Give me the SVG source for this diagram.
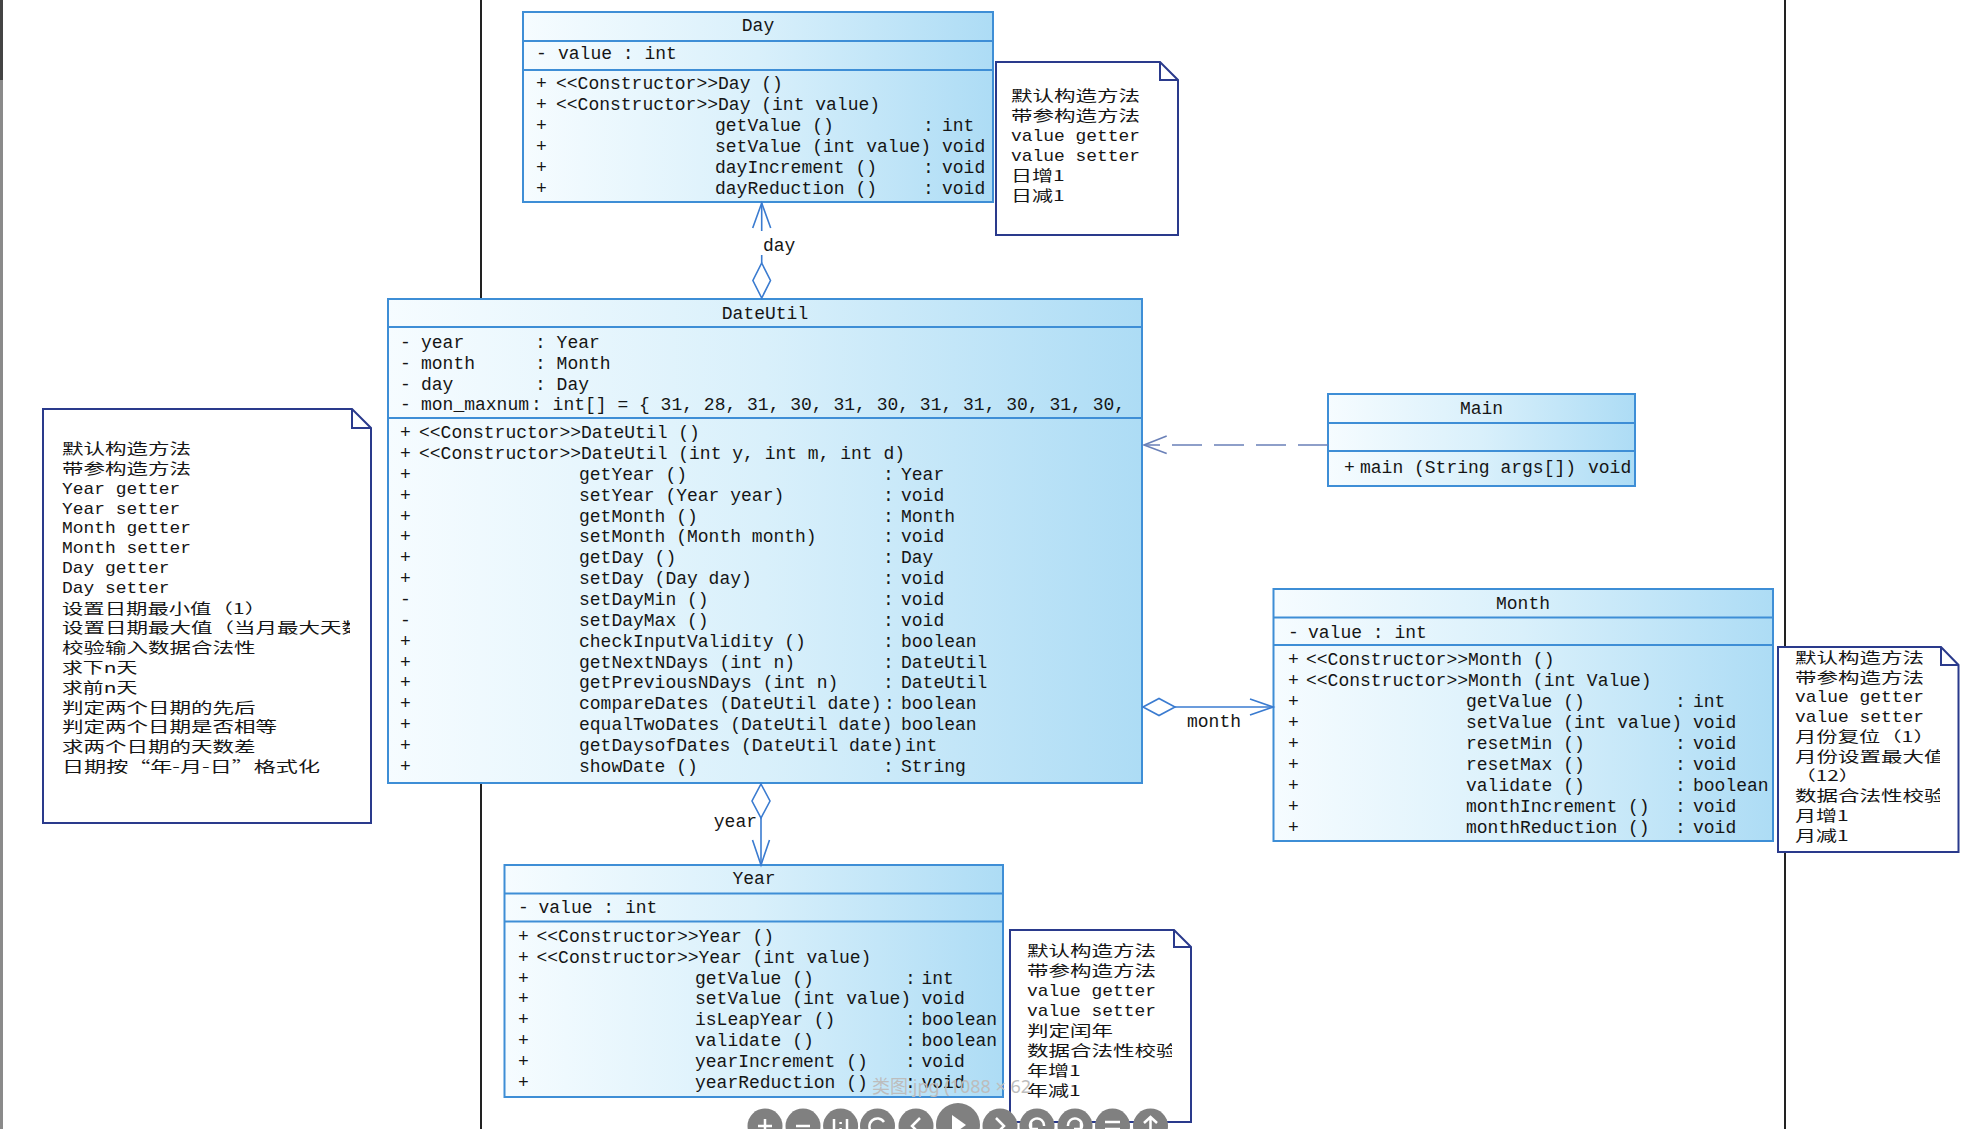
<svg xmlns="http://www.w3.org/2000/svg" width="1976" height="1129" viewBox="0 0 1976 1129">
<defs>
<linearGradient id="g" x1="0" y1="0" x2="1" y2="0">
<stop offset="0" stop-color="#f6fcff"/>
<stop offset="0.5" stop-color="#d9f0fb"/>
<stop offset="1" stop-color="#addcf5"/>
</linearGradient>
<clipPath id="clipDate"><rect x="43" y="409" width="307" height="414"/></clipPath>
<clipPath id="clipMonth"><rect x="1778" y="640" width="162" height="212"/></clipPath>
<clipPath id="clipYear"><rect x="1010" y="930" width="162" height="192"/></clipPath>
<style>
.m { font-family: "Liberation Mono", "DejaVu Sans Mono", monospace; font-size: 18px; fill: #151515; }
.c { font-family: "Noto Sans CJK SC", "Noto Sans", sans-serif; font-size: 14.5px; fill: #151515; }
.nt { font-family: "Liberation Mono", "Noto Sans CJK SC", monospace; font-size: 17px; fill: #151515; }
.box { fill: url(#g); stroke: #3e8ed6; stroke-width: 2; }
.sep { stroke: #3e8ed6; stroke-width: 2; }
.note { fill: #ffffff; stroke: #2a3a8c; stroke-width: 2; }
.fold { fill: none; stroke: #2a3a8c; stroke-width: 2; }
.agg { stroke: #3a7bd0; stroke-width: 1.6; fill: none; }
.dia { stroke: #3a7bd0; stroke-width: 1.6; fill: #ffffff; }
.dep { stroke: #6a80b8; stroke-width: 1.6; fill: none; stroke-dasharray: 30 12; }
.deph { stroke: #6a80b8; stroke-width: 1.6; fill: none; }
.vline { stroke: #222222; stroke-width: 2; }
.btn { fill: #808080; }
.ico { stroke: #ffffff; stroke-width: 2.5; fill: none; }
.wm { font-family: "Noto Sans", "Noto Sans CJK SC", sans-serif; font-size: 18px; fill: #bdbdbd; }
</style>
</defs>
<rect x="0" y="0" width="1976" height="1129" fill="#ffffff"/>
<rect x="0" y="0" width="3" height="1129" fill="#8a8a8a"/>
<rect x="0" y="0" width="3" height="80" fill="#444444"/>
<line x1="481" y1="0" x2="481" y2="1129" class="vline"/>
<line x1="1785" y1="0" x2="1785" y2="1129" class="vline"/>

<g id="Day">
<rect x="523" y="12" width="470" height="190" class="box"/>
<line x1="523" y1="41" x2="993" y2="41" class="sep"/>
<line x1="523" y1="70" x2="993" y2="70" class="sep"/>
<text x="758" y="31" class="m" text-anchor="middle">Day</text>
<text x="536" y="59" class="m">-</text><text x="558" y="59" class="m">value : int</text>
<text y="89" class="m"><tspan x="536">+</tspan><tspan x="556">&lt;&lt;Constructor&gt;&gt;Day ()</tspan></text>
<text y="110" class="m"><tspan x="536">+</tspan><tspan x="556">&lt;&lt;Constructor&gt;&gt;Day (int value)</tspan></text>
<text y="131" class="m"><tspan x="536">+</tspan><tspan x="715">getValue ()</tspan><tspan x="923">:</tspan><tspan x="942">int</tspan></text>
<text y="152" class="m"><tspan x="536">+</tspan><tspan x="715">setValue (int value)</tspan><tspan x="942">void</tspan></text>
<text y="173" class="m"><tspan x="536">+</tspan><tspan x="715">dayIncrement ()</tspan><tspan x="923">:</tspan><tspan x="942">void</tspan></text>
<text y="193.5" class="m"><tspan x="536">+</tspan><tspan x="715">dayReduction ()</tspan><tspan x="923">:</tspan><tspan x="942">void</tspan></text>
</g>

<g id="DayNote">
<path d="M996,62 L1160,62 L1178,80 L1178,235 L996,235 Z" class="note"/>
<path d="M1160,62 L1160,80 L1178,80" class="fold"/>
<text class="nt">
<tspan x="1011" y="100.5" class="c" textLength="129" lengthAdjust="spacingAndGlyphs">默认构造方法</tspan>
<tspan x="1011" y="120.5" class="c" textLength="129" lengthAdjust="spacingAndGlyphs">带参构造方法</tspan>
<tspan x="1011" y="140.5" textLength="129" lengthAdjust="spacingAndGlyphs">value getter</tspan>
<tspan x="1011" y="160.5" textLength="129" lengthAdjust="spacingAndGlyphs">value setter</tspan>
<tspan x="1011" y="180.5" class="c" textLength="53.75" lengthAdjust="spacingAndGlyphs">日增1</tspan>
<tspan x="1011" y="200.5" class="c" textLength="53.75" lengthAdjust="spacingAndGlyphs">日减1</tspan>
</text>
</g>

<g id="DateUtil">
<rect x="388" y="299" width="754" height="484" class="box"/>
<line x1="388" y1="327" x2="1142" y2="327" class="sep"/>
<line x1="388" y1="418" x2="1142" y2="418" class="sep"/>
<text x="765" y="319" class="m" text-anchor="middle">DateUtil</text>
<text y="348" class="m"><tspan x="400">-</tspan><tspan x="421">year</tspan><tspan x="535">: Year</tspan></text>
<text y="368.5" class="m"><tspan x="400">-</tspan><tspan x="421">month</tspan><tspan x="535">: Month</tspan></text>
<text y="389.5" class="m"><tspan x="400">-</tspan><tspan x="421">day</tspan><tspan x="535">: Day</tspan></text>
<text y="410" class="m"><tspan x="400">-</tspan><tspan x="421">mon_maxnum</tspan><tspan x="531">: int[] = { 31, 28, 31, 30, 31, 30, 31, 31, 30, 31, 30,</tspan></text>
<text y="438" class="m"><tspan x="400">+</tspan><tspan x="419">&lt;&lt;Constructor&gt;&gt;DateUtil ()</tspan></text>
<text y="459" class="m"><tspan x="400">+</tspan><tspan x="419">&lt;&lt;Constructor&gt;&gt;DateUtil (int y, int m, int d)</tspan></text>
<text y="480" class="m"><tspan x="400">+</tspan><tspan x="579">getYear ()</tspan><tspan x="883">:</tspan><tspan x="901">Year</tspan></text>
<text y="500.5" class="m"><tspan x="400">+</tspan><tspan x="579">setYear (Year year)</tspan><tspan x="883">:</tspan><tspan x="901">void</tspan></text>
<text y="521.5" class="m"><tspan x="400">+</tspan><tspan x="579">getMonth ()</tspan><tspan x="883">:</tspan><tspan x="901">Month</tspan></text>
<text y="542" class="m"><tspan x="400">+</tspan><tspan x="579">setMonth (Month month)</tspan><tspan x="883">:</tspan><tspan x="901">void</tspan></text>
<text y="563" class="m"><tspan x="400">+</tspan><tspan x="579">getDay ()</tspan><tspan x="883">:</tspan><tspan x="901">Day</tspan></text>
<text y="584" class="m"><tspan x="400">+</tspan><tspan x="579">setDay (Day day)</tspan><tspan x="883">:</tspan><tspan x="901">void</tspan></text>
<text y="605" class="m"><tspan x="400">-</tspan><tspan x="579">setDayMin ()</tspan><tspan x="883">:</tspan><tspan x="901">void</tspan></text>
<text y="625.5" class="m"><tspan x="400">-</tspan><tspan x="579">setDayMax ()</tspan><tspan x="883">:</tspan><tspan x="901">void</tspan></text>
<text y="646.5" class="m"><tspan x="400">+</tspan><tspan x="579">checkInputValidity ()</tspan><tspan x="883">:</tspan><tspan x="901">boolean</tspan></text>
<text y="667.5" class="m"><tspan x="400">+</tspan><tspan x="579">getNextNDays (int n)</tspan><tspan x="883">:</tspan><tspan x="901">DateUtil</tspan></text>
<text y="688" class="m"><tspan x="400">+</tspan><tspan x="579">getPreviousNDays (int n)</tspan><tspan x="883">:</tspan><tspan x="901">DateUtil</tspan></text>
<text y="709" class="m"><tspan x="400">+</tspan><tspan x="579">compareDates (DateUtil date)</tspan><tspan x="884">:</tspan><tspan x="901">boolean</tspan></text>
<text y="730" class="m"><tspan x="400">+</tspan><tspan x="579">equalTwoDates (DateUtil date)</tspan><tspan x="901">boolean</tspan></text>
<text y="751" class="m"><tspan x="400">+</tspan><tspan x="579">getDaysofDates (DateUtil date)</tspan><tspan x="905">int</tspan></text>
<text y="771.5" class="m"><tspan x="400">+</tspan><tspan x="579">showDate ()</tspan><tspan x="883">:</tspan><tspan x="901">String</tspan></text>
</g>

<g id="DateUtilNote">
<path d="M43,409 L352,409 L371,428 L371,823 L43,823 Z" class="note"/>
<path d="M352,409 L352,428 L371,428" class="fold"/>
<text class="nt" clip-path="url(#clipDate)">
<tspan x="62" y="453.8" class="c" textLength="129" lengthAdjust="spacingAndGlyphs">默认构造方法</tspan>
<tspan x="62" y="473.7" class="c" textLength="129" lengthAdjust="spacingAndGlyphs">带参构造方法</tspan>
<tspan x="62" y="493.6" textLength="118.25" lengthAdjust="spacingAndGlyphs">Year getter</tspan>
<tspan x="62" y="513.5" textLength="118.25" lengthAdjust="spacingAndGlyphs">Year setter</tspan>
<tspan x="62" y="533.4" textLength="129" lengthAdjust="spacingAndGlyphs">Month getter</tspan>
<tspan x="62" y="553.3" textLength="129" lengthAdjust="spacingAndGlyphs">Month setter</tspan>
<tspan x="62" y="573.2" textLength="107.5" lengthAdjust="spacingAndGlyphs">Day getter</tspan>
<tspan x="62" y="593.1" textLength="107.5" lengthAdjust="spacingAndGlyphs">Day setter</tspan>
<tspan x="62" y="613.5" class="c" textLength="204" lengthAdjust="spacingAndGlyphs">设置日期最小值（1）</tspan>
<tspan x="62" y="632.9" class="c" textLength="301" lengthAdjust="spacingAndGlyphs">设置日期最大值（当月最大天数</tspan>
<tspan x="62" y="652.8" class="c" textLength="193.5" lengthAdjust="spacingAndGlyphs">校验输入数据合法性</tspan>
<tspan x="62" y="672.7" class="c" textLength="75.25" lengthAdjust="spacingAndGlyphs">求下n天</tspan>
<tspan x="62" y="692.6" class="c" textLength="75.25" lengthAdjust="spacingAndGlyphs">求前n天</tspan>
<tspan x="62" y="712.5" class="c" textLength="193.5" lengthAdjust="spacingAndGlyphs">判定两个日期的先后</tspan>
<tspan x="62" y="732.4" class="c" textLength="215" lengthAdjust="spacingAndGlyphs">判定两个日期是否相等</tspan>
<tspan x="62" y="752.3" class="c" textLength="193.5" lengthAdjust="spacingAndGlyphs">求两个日期的天数差</tspan>
<tspan x="62" y="772.2" class="c" textLength="258" lengthAdjust="spacingAndGlyphs">日期按“年-月-日”格式化</tspan>
</text>
</g>

<g id="Main">
<rect x="1328" y="394" width="307" height="92" class="box"/>
<line x1="1328" y1="423" x2="1635" y2="423" class="sep"/>
<line x1="1328" y1="451" x2="1635" y2="451" class="sep"/>
<text x="1481.5" y="414" class="m" text-anchor="middle">Main</text>
<text y="473" class="m"><tspan x="1344">+</tspan><tspan x="1360">main (String args[])</tspan><tspan x="1588">void</tspan></text>
</g>

<g id="Month">
<rect x="1273.5" y="589" width="499.5" height="252" class="box"/>
<line x1="1273.5" y1="617.5" x2="1773" y2="617.5" class="sep"/>
<line x1="1273.5" y1="645" x2="1773" y2="645" class="sep"/>
<text x="1523" y="609" class="m" text-anchor="middle">Month</text>
<text x="1288" y="638" class="m">-</text><text x="1308" y="638" class="m">value : int</text>
<text y="665" class="m"><tspan x="1288">+</tspan><tspan x="1306">&lt;&lt;Constructor&gt;&gt;Month ()</tspan></text>
<text y="686" class="m"><tspan x="1288">+</tspan><tspan x="1306">&lt;&lt;Constructor&gt;&gt;Month (int Value)</tspan></text>
<text y="707" class="m"><tspan x="1288">+</tspan><tspan x="1466">getValue ()</tspan><tspan x="1675">:</tspan><tspan x="1693">int</tspan></text>
<text y="728" class="m"><tspan x="1288">+</tspan><tspan x="1466">setValue (int value)</tspan><tspan x="1693">void</tspan></text>
<text y="749" class="m"><tspan x="1288">+</tspan><tspan x="1466">resetMin ()</tspan><tspan x="1675">:</tspan><tspan x="1693">void</tspan></text>
<text y="770" class="m"><tspan x="1288">+</tspan><tspan x="1466">resetMax ()</tspan><tspan x="1675">:</tspan><tspan x="1693">void</tspan></text>
<text y="791" class="m"><tspan x="1288">+</tspan><tspan x="1466">validate ()</tspan><tspan x="1675">:</tspan><tspan x="1693">boolean</tspan></text>
<text y="812" class="m"><tspan x="1288">+</tspan><tspan x="1466">monthIncrement ()</tspan><tspan x="1675">:</tspan><tspan x="1693">void</tspan></text>
<text y="833" class="m"><tspan x="1288">+</tspan><tspan x="1466">monthReduction ()</tspan><tspan x="1675">:</tspan><tspan x="1693">void</tspan></text>
</g>

<g id="MonthNote">
<path d="M1778,647 L1941,647 L1958.5,665 L1958.5,852 L1778,852 Z" class="note"/>
<path d="M1941,647 L1941,665 L1958.5,665" class="fold"/>
<text class="nt" clip-path="url(#clipMonth)">
<tspan x="1795" y="662.8" class="c" textLength="129" lengthAdjust="spacingAndGlyphs">默认构造方法</tspan>
<tspan x="1795" y="682.5" class="c" textLength="129" lengthAdjust="spacingAndGlyphs">带参构造方法</tspan>
<tspan x="1795" y="702.3" textLength="129" lengthAdjust="spacingAndGlyphs">value getter</tspan>
<tspan x="1795" y="722" textLength="129" lengthAdjust="spacingAndGlyphs">value setter</tspan>
<tspan x="1795" y="742.3" class="c" textLength="139.75" lengthAdjust="spacingAndGlyphs">月份复位（1）</tspan>
<tspan x="1795" y="761.5" class="c" textLength="150.5" lengthAdjust="spacingAndGlyphs">月份设置最大值</tspan>
<tspan x="1795" y="781.3" class="c" textLength="64.5" lengthAdjust="spacingAndGlyphs">（12）</tspan>
<tspan x="1795" y="801" class="c" textLength="150.5" lengthAdjust="spacingAndGlyphs">数据合法性校验</tspan>
<tspan x="1795" y="820.8" class="c" textLength="53.75" lengthAdjust="spacingAndGlyphs">月增1</tspan>
<tspan x="1795" y="840.5" class="c" textLength="53.75" lengthAdjust="spacingAndGlyphs">月减1</tspan>
</text>
</g>

<g id="Year">
<rect x="504.5" y="865" width="498.5" height="232" class="box"/>
<line x1="504.5" y1="893.5" x2="1003" y2="893.5" class="sep"/>
<line x1="504.5" y1="921.5" x2="1003" y2="921.5" class="sep"/>
<text x="754" y="884" class="m" text-anchor="middle">Year</text>
<text x="518" y="913" class="m">-</text><text x="538.5" y="913" class="m">value : int</text>
<text y="942" class="m"><tspan x="518">+</tspan><tspan x="536.5">&lt;&lt;Constructor&gt;&gt;Year ()</tspan></text>
<text y="962.8" class="m"><tspan x="518">+</tspan><tspan x="536.5">&lt;&lt;Constructor&gt;&gt;Year (int value)</tspan></text>
<text y="983.6" class="m"><tspan x="518">+</tspan><tspan x="695">getValue ()</tspan><tspan x="905">:</tspan><tspan x="921.5">int</tspan></text>
<text y="1004.4" class="m"><tspan x="518">+</tspan><tspan x="695">setValue (int value)</tspan><tspan x="921.5">void</tspan></text>
<text y="1025.2" class="m"><tspan x="518">+</tspan><tspan x="695">isLeapYear ()</tspan><tspan x="905">:</tspan><tspan x="921.5">boolean</tspan></text>
<text y="1046" class="m"><tspan x="518">+</tspan><tspan x="695">validate ()</tspan><tspan x="905">:</tspan><tspan x="921.5">boolean</tspan></text>
<text y="1066.8" class="m"><tspan x="518">+</tspan><tspan x="695">yearIncrement ()</tspan><tspan x="905">:</tspan><tspan x="921.5">void</tspan></text>
<text y="1087.6" class="m"><tspan x="518">+</tspan><tspan x="695">yearReduction ()</tspan><tspan x="905">:</tspan><tspan x="921.5">void</tspan></text>
</g>

<g id="YearNote">
<path d="M1010,930 L1174,930 L1191,947 L1191,1122 L1010,1122 Z" class="note"/>
<path d="M1174,930 L1174,947 L1191,947" class="fold"/>
<text class="nt" clip-path="url(#clipYear)">
<tspan x="1027" y="955.5" class="c" textLength="129" lengthAdjust="spacingAndGlyphs">默认构造方法</tspan>
<tspan x="1027" y="975.5" class="c" textLength="129" lengthAdjust="spacingAndGlyphs">带参构造方法</tspan>
<tspan x="1027" y="995.5" textLength="129" lengthAdjust="spacingAndGlyphs">value getter</tspan>
<tspan x="1027" y="1015.5" textLength="129" lengthAdjust="spacingAndGlyphs">value setter</tspan>
<tspan x="1027" y="1036" class="c" textLength="86" lengthAdjust="spacingAndGlyphs">判定闰年</tspan>
<tspan x="1027" y="1055.5" class="c" textLength="150.5" lengthAdjust="spacingAndGlyphs">数据合法性校验</tspan>
<tspan x="1027" y="1075.5" class="c" textLength="53.75" lengthAdjust="spacingAndGlyphs">年增1</tspan>
<tspan x="1027" y="1095.5" class="c" textLength="53.75" lengthAdjust="spacingAndGlyphs">年减1</tspan>
</text>
</g>

<g id="connectors">
<line x1="761.7" y1="203" x2="761.7" y2="231" class="agg"/>
<line x1="761.7" y1="255" x2="761.7" y2="263" class="agg"/>
<polyline points="752.7,228 761.7,203 770.7,228" class="agg"/>
<polygon points="761.7,263 770.5,280.5 761.7,298 752.9,280.5" class="dia"/>
<text x="763" y="251" class="m">day</text>

<polygon points="761,784 770,801 761,818 752,801" class="dia"/>
<line x1="761" y1="818" x2="761" y2="865" class="agg"/>
<polyline points="752.5,840 761,865 769.5,840" class="agg"/>
<text x="757" y="827" class="m" text-anchor="end">year</text>

<polygon points="1143,707 1159,698.5 1175,707 1159,715.5" class="dia"/>
<line x1="1175" y1="707" x2="1273" y2="707" class="agg"/>
<polyline points="1250,699 1273,707 1250,715" class="agg"/>
<text x="1187" y="727" class="m">month</text>

<line x1="1328" y1="445" x2="1146" y2="445" class="dep"/>
<polyline points="1166.7,436 1144,445 1166.7,453.5" class="deph"/>
</g>

<g id="viewer-overlay">
<text x="872" y="1093" class="wm">类图.jpg (1088 × 62</text>
<circle cx="765" cy="1126" r="17.5" class="btn"/>
<circle cx="803" cy="1126" r="17.5" class="btn"/>
<circle cx="840.6" cy="1126" r="17.5" class="btn"/>
<circle cx="877.5" cy="1126" r="17.5" class="btn"/>
<circle cx="916" cy="1126" r="17.5" class="btn"/>
<circle cx="958" cy="1125" r="22" class="btn"/>
<circle cx="1000" cy="1126" r="17.5" class="btn"/>
<circle cx="1037" cy="1126" r="17.5" class="btn"/>
<circle cx="1075" cy="1126" r="17.5" class="btn"/>
<circle cx="1112.5" cy="1126" r="17.5" class="btn"/>
<circle cx="1150.5" cy="1126" r="17.5" class="btn"/>
<path d="M765,1119 V1133 M758,1126 H772" class="ico"/>
<path d="M796,1126 H810" class="ico"/>
<path d="M834,1119 V1133 M847,1119 V1133 M840.6,1122 V1124 M840.6,1128 V1130" class="ico"/>
<path d="M884,1122 A8,8 0 1 0 884,1131" class="ico"/>
<polyline points="920,1118 912,1126 920,1134" class="ico"/>
<polygon points="952,1115 966,1125 952,1135" fill="#ffffff"/>
<polyline points="996,1118 1004,1126 996,1134" class="ico"/>
<path d="M1031,1129 A7,7 0 1 1 1044,1126 M1031,1121 V1129 H1038" class="ico"/>
<path d="M1081,1129 A7,7 0 1 0 1068,1126 M1081,1121 V1129 H1074" class="ico"/>
<path d="M1105,1122 H1120 M1105,1129 H1120" class="ico"/>
<path d="M1150.5,1117 V1134 M1144,1123 L1150.5,1117 L1157,1123" class="ico"/>
</g>
</svg>
